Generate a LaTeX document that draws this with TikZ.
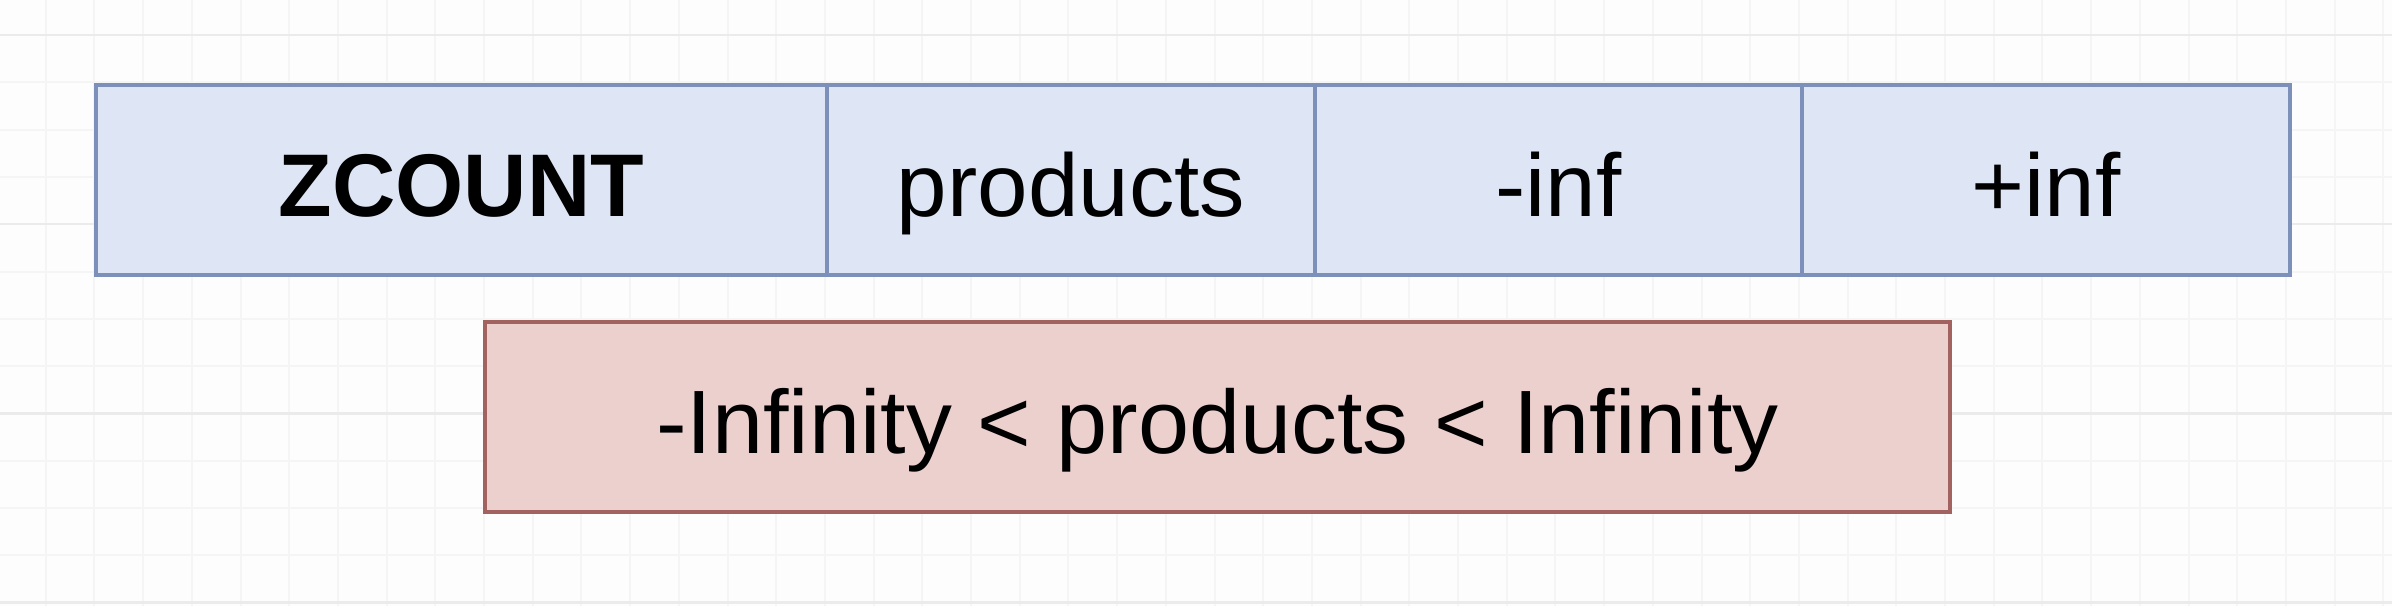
\documentclass[tikz,border=0pt]{standalone}
\usepackage{fontspec}
\setmainfont{Liberation Sans}[FakeStretch=1.02]
\newfontfamily\zcfont{Liberation Sans}[FakeStretch=0.985]
\definecolor{bgwhite}{RGB}{253,253,253}
\definecolor{gridminor}{RGB}{245,245,245}
\definecolor{gridmajor}{RGB}{235,235,235}
\definecolor{bluefill}{RGB}{222,230,245}
\definecolor{bluestroke}{RGB}{124,144,186}
\definecolor{redfill}{RGB}{236,208,206}
\definecolor{redstroke}{RGB}{162,98,96}
\begin{document}
\begin{tikzpicture}[x=1pt,y=-1pt,
  cellbox/.style={draw=bluestroke, fill=bluefill, line width=4pt, minimum height=190pt,
    inner sep=0pt, text height=72pt, text depth=0pt, font=\fontsize{89}{100}\selectfont},
  rangebox/.style={draw=redstroke, fill=redfill, line width=4pt, minimum height=190pt,
    inner sep=0pt, text height=72pt, text depth=0pt, font=\fontsize{90}{100}\selectfont},
  minorline/.style={gridminor, line width=2pt},
  majorline/.style={gridmajor, line width=2.5pt}]
\fill[bgwhite] (0,0) rectangle (2392,606);
\useasboundingbox (0,0) rectangle (2392,606);
% grid
\foreach \k in {0,...,49} {
  \draw[minorline] ({-3+48.7*\k},0) -- ({-3+48.7*\k},606);
}
\foreach \k in {0,...,12} {
  \draw[minorline] (0,{35+47.3*\k}) -- (2392,{35+47.3*\k});
}
\foreach \k in {0,4,8,12} {
  \draw[majorline] (0,{35+47.3*\k}) -- (2392,{35+47.3*\k});
}
% top row
\node[cellbox, minimum width=731pt] (zc) at (461.5,180) {\zcfont\bfseries ZCOUNT};
\node[cellbox, minimum width=488pt] (pr) at (1071,180) {products};
\node[cellbox, minimum width=487pt] (mi) at (1558.5,180) {-inf};
\node[cellbox, minimum width=488pt] (pi) at (2046,180) {+inf};
% range box
\node[rangebox, minimum width=1465pt] (rg) at (1217.5,417) {-Infinity < products < Infinity};
\end{tikzpicture}
\end{document}
